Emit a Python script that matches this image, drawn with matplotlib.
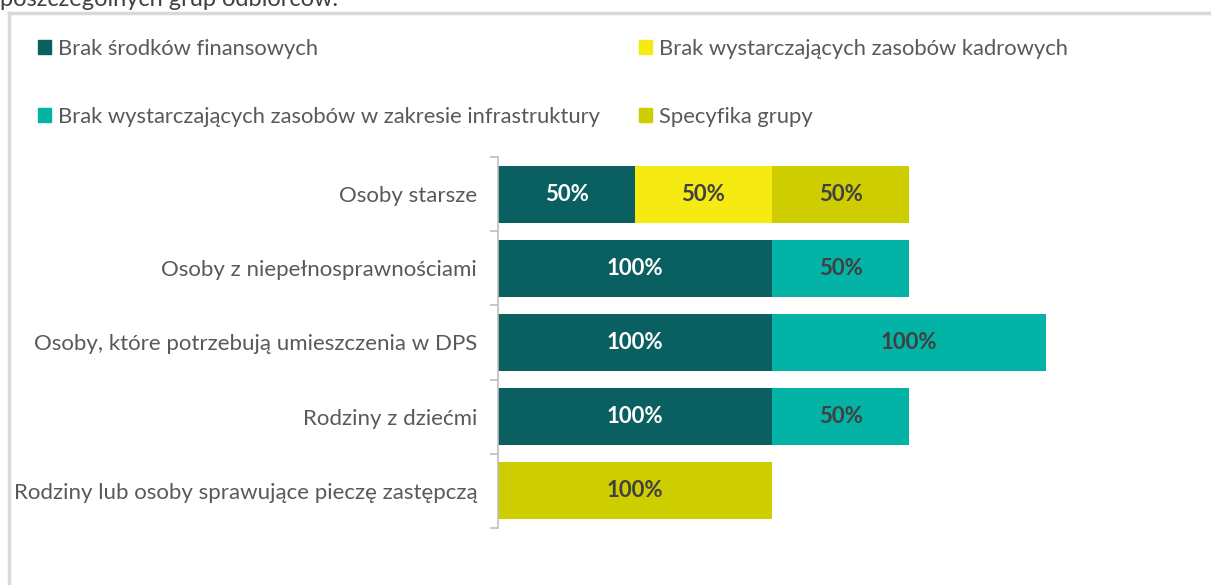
import matplotlib
matplotlib.use('Agg')

import matplotlib.pyplot as plt
from matplotlib.lines import Line2D
from matplotlib.patches import Patch

plt.rcParams['font.family'] = ['Lato', 'DejaVu Sans']

kategorie = [
    "Osoby starsze",
    "Osoby z niepełnosprawnościami",
    "Osoby, które potrzebują umieszczenia w DPS",
    "Rodziny z dziećmi",
    "Rodziny lub osoby sprawujące pieczę zastępczą",
]

serie = [
    "Brak środków finansowych",
    "Brak wystarczających zasobów kadrowych",
    "Brak wystarczających zasobów w zakresie infrastruktury",
    "Specyfika grupy",
]

finansowe = [50, 100, 100, 100, 0]
kadrowe = [50, 0, 0, 0, 0]
infrastruktura = [0, 50, 100, 50, 0]
specyfika = [50, 0, 0, 0, 100]

kolory = ["#0A6060", "#F5EA12", "#03B3A6", "#CDCD00"]
kolory_etykiet = ["white", "#404040", "#404040", "#404040"]

szary = "#595959"

fig = plt.figure(figsize=(12.11, 5.85), dpi=100)
ax = fig.add_axes([498 / 1211, 1 - 528 / 585, (1183 - 498) / 1211, (528 - 157) / 585])

pozycje = range(len(kategorie))
lewo = [0] * len(kategorie)
for nazwa, wartosci, kolor, kolor_tekstu in zip(
        serie, [finansowe, kadrowe, infrastruktura, specyfika], kolory, kolory_etykiet):
    ax.barh(pozycje, wartosci, left=lewo, height=0.77, color=kolor, label=nazwa)
    for i, w in enumerate(wartosci):
        if w > 0:
            ax.text(lewo[i] + w / 2, i, f"{w}%", ha='center', va='center',
                    color=kolor_tekstu, fontsize=16, fontweight='bold')
    lewo = [a + b for a, b in zip(lewo, wartosci)]

ax.set_xlim(0, 250)
ax.set_ylim(4.5, -0.5)
ax.set_yticks(list(pozycje))
ax.set_yticklabels(kategorie, fontsize=16, color=szary)
ax.set_yticks([i - 0.5 for i in range(len(kategorie) + 1)], minor=True)
ax.tick_params(axis='y', which='major', length=0, pad=15)
ax.tick_params(axis='y', which='minor', length=6, color='#BFBFBF', width=1.2)
ax.set_xticks([])
for s in ['top', 'right', 'bottom']:
    ax.spines[s].set_visible(False)
ax.spines['left'].set_color('#BFBFBF')
ax.spines['left'].set_linewidth(1.2)

# legenda w dwóch kolumnach, kolejność wierszami
uchwyty = [Patch(color=k) for k in kolory]
kolejnosc = [0, 2, 1, 3]
fig.legend([uchwyty[i] for i in kolejnosc], [serie[i] for i in kolejnosc],
           ncol=2, loc='upper left', bbox_to_anchor=(18 / 1211, 1 - 19 / 585),
           frameon=False, fontsize=15.8, labelcolor=szary,
           handlelength=0.6, handleheight=0.6, handletextpad=0.3,
           labelspacing=2.2, columnspacing=1.8)

# ramka wykresu
fig.add_artist(Line2D([9 / 1211, 9 / 1211], [0, 1 - 13 / 585], color='#D9D9D9', lw=2.5))
fig.add_artist(Line2D([9 / 1211, 1], [1 - 13 / 585, 1 - 13 / 585], color='#D9D9D9', lw=2.5))

fig.text(0.0, 1.0, "poszczególnych grup odbiorców.", ha='left', va='center',
         fontsize=17, color='#404040')

fig.savefig('out.png', dpi=100)
